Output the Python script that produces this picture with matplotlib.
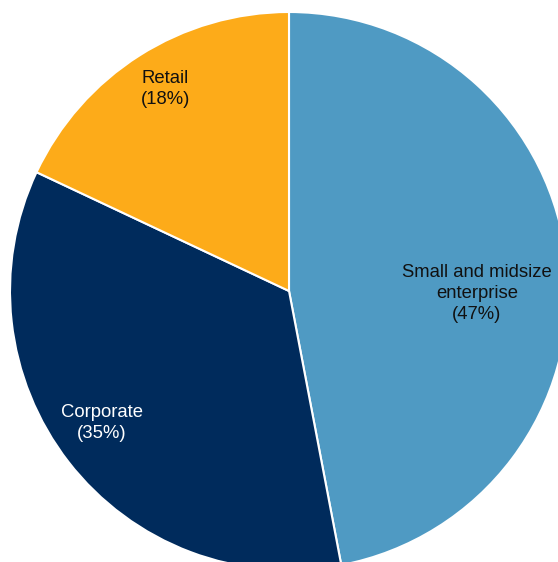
import matplotlib.pyplot as plt

# data
segments = ["Small and midsize\nenterprise", "Corporate", "Retail"]
shares = [47, 35, 18]
colors = ["#4F9AC3", "#002B5C", "#FDAB19"]
text_colors = ["#111111", "white", "#111111"]
label_pos = [(0.674, -0.01), (-0.670, -0.473), (-0.444, 0.724)]

plt.rcParams['font.family'] = ['Liberation Sans', 'DejaVu Sans']

fig = plt.figure(figsize=(5.58, 5.62), dpi=100)
# pie center at (289, 291) px, radius 279 px
ax = fig.add_axes([10 / 558, -8 / 562, 558 / 558, 558 / 562])
ax.pie(shares, colors=colors, startangle=90, counterclock=False,
       radius=1, wedgeprops=dict(edgecolor="white", linewidth=1.5))
ax.set_xlim(-1, 1)
ax.set_ylim(-1, 1)
ax.axis("off")

for name, val, tc, (x, y) in zip(segments, shares, text_colors, label_pos):
    ax.text(x, y, f"{name}\n({val}%)", ha="center", va="center",
            fontsize=13.3, color=tc, linespacing=1.32)

fig.savefig("out.png", dpi=100)
